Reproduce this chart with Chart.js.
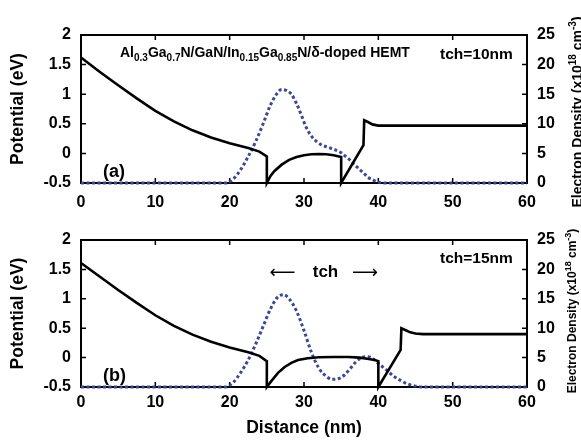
<!DOCTYPE html>
<html><head><meta charset="utf-8">
<script src="https://cdn.jsdelivr.net/npm/chart.js@4.4.1/dist/chart.umd.min.js"></script>
<style>
html,body{margin:0;padding:0;background:#fff;}
#wrap{position:relative;width:581px;height:443px;overflow:hidden;background:#fff;}
canvas{position:absolute;left:0;}
</style></head><body>
<div id="wrap">
<canvas id="ca" width="581" height="215" style="top:0px"></canvas>
<canvas id="cb" width="581" height="228" style="top:215px"></canvas>
</div>
<script>
// ---------- tick labels ----------
const xTickValues = [0, 10, 20, 30, 40, 50, 60];
const xTickLabels = ['0', '10', '20', '30', '40', '50', '60'];
const leftTickValues = [-0.5, 0, 0.5, 1, 1.5, 2];
const leftTickLabels = ['-0.5', '0', '0.5', '1', '1.5', '2'];
const rightTickValues = [0, 5, 10, 15, 20, 25];
const rightTickLabels = ['0', '5', '10', '15', '20', '25'];

// ---------- panel (a): tch = 10 nm ----------
const distPotA = [0, 2.5, 5, 7.5, 10, 12.5, 15, 17.5, 20, 22.5, 24, 25, 25, 25.5, 26, 27, 28, 29, 30, 31, 32, 33, 34, 35, 35, 38, 38.1, 38.6, 39.2, 40, 45, 50, 55, 60];
const potA     = [1.62, 1.38, 1.15, 0.93, 0.72, 0.54, 0.39, 0.27, 0.17, 0.09, 0.03, -0.05, -0.5, -0.38, -0.30, -0.19, -0.11, -0.06, -0.03, -0.015, -0.01, -0.015, -0.03, -0.06, -0.5, 0.14, 0.56, 0.53, 0.49, 0.47, 0.47, 0.47, 0.47, 0.47];
const distDenA = [0, 5, 10, 15, 19.5, 20.5, 21.5, 22.5, 23.5, 24.5, 25.5, 26.3, 27, 27.7, 28.3, 29, 29.7, 30.3, 31, 31.7, 32.4, 33.3, 34.2, 35, 35.5, 36, 36.6, 37.3, 38, 38.7, 39.3, 40, 41, 45, 50, 55, 60];
const denA     = [0, 0, 0, 0, 0, 0.7, 2.3, 4.5, 7.0, 10.0, 13.2, 15.0, 15.8, 15.6, 15.0, 13.4, 11.3, 9.4, 7.9, 7.0, 6.4, 6.0, 5.6, 5.1, 4.6, 4.1, 3.3, 2.5, 1.7, 0.9, 0.5, 0.15, 0, 0, 0, 0, 0];

// ---------- panel (b): tch = 15 nm ----------
const distPotB = [0, 2.5, 5, 7.5, 10, 12.5, 15, 17.5, 20, 22.5, 24, 25, 25, 25.6, 26.5, 27.4, 28.3, 29.2, 30.5, 32, 34, 36, 37.5, 38.5, 39.5, 40, 40, 43, 43.1, 43.6, 44.3, 45, 46, 50, 55, 60];
const potB     = [1.61, 1.38, 1.15, 0.93, 0.72, 0.54, 0.39, 0.27, 0.17, 0.09, 0.03, -0.06, -0.5, -0.40, -0.26, -0.16, -0.09, -0.04, -0.01, 0.005, 0.01, 0.01, 0.0, -0.02, -0.04, -0.06, -0.5, 0.13, 0.50, 0.47, 0.43, 0.41, 0.40, 0.40, 0.40, 0.40];
const distDenB = [0, 5, 10, 15, 19.5, 20.5, 21.5, 22.5, 23.5, 24.5, 25.5, 26.4, 27.2, 28, 29, 30, 31, 32, 33, 33.8, 34.6, 35.4, 36.2, 37, 37.7, 38.5, 39.2, 40, 41, 42, 43, 44, 45, 46, 50, 55, 60];
const denB     = [0, 0, 0, 0, 0, 0.8, 2.5, 4.6, 7.3, 10.3, 13.3, 15.2, 15.7, 15.0, 12.9, 9.6, 5.9, 3.2, 1.8, 1.3, 1.4, 2.0, 3.1, 4.3, 4.95, 5.15, 4.9, 4.0, 3.0, 1.9, 1.1, 0.5, 0.15, 0, 0, 0, 0];

// ---------- helpers ----------
const FAM = '"Liberation Sans", Arial, Helvetica, sans-serif';
const B = n => `bold ${n}px ${FAM}`;
const pts = (xs, ys) => xs.map((x, i) => ({ x: x, y: ys[i] }));

function rich(ctx, segs, x, y, align) {
  let total = 0;
  segs.forEach(s => { ctx.font = s.f; s.w = ctx.measureText(s.t).width; total += s.w; });
  let cx = align === 'center' ? x - total / 2 : x;
  ctx.textAlign = 'left';
  segs.forEach(s => { ctx.font = s.f; ctx.fillText(s.t, cx, y + (s.dy || 0)); cx += s.w; });
}

function arrowText(ctx, ch, cx, baseY, width) {
  ctx.save();
  ctx.font = '18px "DejaVu Sans", sans-serif';
  const w = ctx.measureText(ch).width;
  ctx.translate(cx, baseY);
  ctx.scale(width / w, 1);
  ctx.textAlign = 'center';
  ctx.textBaseline = 'alphabetic';
  ctx.fillText(ch, 0, 0);
  ctx.restore();
}

function makeChart(canvas, p) {
  const framePlugin = {
    id: 'frame' + canvas.id,
    beforeDatasetsDraw(chart) {
      const { ctx, chartArea: a, scales } = chart;
      ctx.save();
      ctx.strokeStyle = '#000';
      ctx.lineWidth = 2;
      ctx.strokeRect(a.left, a.top, a.right - a.left, a.bottom - a.top);
      ctx.lineWidth = 1.5;
      const tl = 5;
      ctx.beginPath();
      xTickValues.forEach(v => {
        if (v === xTickValues[0] || v === xTickValues[xTickValues.length - 1]) return;
        const px = scales.x.getPixelForValue(v);
        ctx.moveTo(px, a.bottom); ctx.lineTo(px, a.bottom - tl);
        ctx.moveTo(px, a.top); ctx.lineTo(px, a.top + tl);
      });
      leftTickValues.forEach(v => {
        const py = scales.y.getPixelForValue(v);
        ctx.moveTo(a.left, py); ctx.lineTo(a.left + tl, py);
      });
      rightTickValues.forEach(v => {
        const py = scales.y2.getPixelForValue(v);
        ctx.moveTo(a.right, py); ctx.lineTo(a.right - tl, py);
      });
      ctx.stroke();
      ctx.restore();
    },
    afterDraw(chart) {
      const { ctx, chartArea: a } = chart;
      ctx.save();
      ctx.fillStyle = '#000';
      ctx.textBaseline = 'alphabetic';
      // left axis title
      ctx.save();
      ctx.translate(23, (a.top + a.bottom) / 2);
      ctx.rotate(-Math.PI / 2);
      ctx.font = B(17.5);
      ctx.textAlign = 'center';
      ctx.fillText('Potential (eV)', 0, 0);
      ctx.restore();
      // right axis title
      ctx.save();
      ctx.translate(p.rtX, p.rtY);
      ctx.rotate(-Math.PI / 2);
      rich(ctx, [
        { t: 'Electron Density (x10', f: B(p.rtMain) },
        { t: '18', f: B(p.rtSup), dy: -p.rtMain * 0.45 },
        { t: ' cm', f: B(p.rtMain) },
        { t: '-3', f: B(p.rtSup), dy: -p.rtMain * 0.45 },
        { t: ')', f: B(p.rtMain) }
      ], 0, 0, 'center');
      ctx.restore();
      p.annotate(ctx, chart);
      ctx.restore();
    }
  };

  return new Chart(canvas, {
    type: 'line',
    data: {
      datasets: [
        { data: pts(p.dp, p.vp), yAxisID: 'y', borderColor: '#000', borderWidth: 2.6,
          pointRadius: 0, tension: 0, fill: false, clip: 6 },
        { data: pts(p.dd, p.vd), yAxisID: 'y2', borderColor: 'rgb(58,72,155)', borderWidth: 3,
          borderDash: [3, 2.5], pointRadius: 0, cubicInterpolationMode: 'monotone', fill: false, clip: 6 }
      ]
    },
    options: {
      responsive: false, animation: false, devicePixelRatio: 1,
      layout: { padding: { top: p.top, left: 0, right: 0, bottom: 0 } },
      plugins: { legend: { display: false }, tooltip: { enabled: false } },
      scales: {
        x: {
          type: 'linear', min: 0, max: 60,
          grid: { display: false, drawTicks: false }, border: { display: false },
          afterBuildTicks: s => { s.ticks = xTickValues.map(v => ({ value: v })); },
          afterFit: s => { s.height = p.xH; },
          ticks: { font: { family: FAM, weight: 'bold', size: 16 }, color: '#000', padding: p.xPad, maxRotation: 0,
                   callback: (v) => xTickLabels[xTickValues.indexOf(v)] }
        },
        y: {
          type: 'linear', position: 'left', min: -0.5, max: 2,
          grid: { display: false, drawTicks: false }, border: { display: false },
          afterBuildTicks: s => { s.ticks = leftTickValues.map(v => ({ value: v })); },
          afterFit: s => { s.width = 81; },
          ticks: { font: { family: FAM, weight: 'bold', size: 16 }, color: '#000', padding: 10,
                   callback: (v) => leftTickLabels[leftTickValues.indexOf(v)] }
        },
        y2: {
          type: 'linear', position: 'right', min: 0, max: 25,
          grid: { display: false, drawTicks: false }, border: { display: false },
          afterBuildTicks: s => { s.ticks = rightTickValues.map(v => ({ value: v })); },
          afterFit: s => { s.width = 54; },
          ticks: { font: { family: FAM, weight: 'bold', size: 16 }, color: '#000', padding: 10,
                   callback: (v) => rightTickLabels[rightTickValues.indexOf(v)] }
        }
      }
    },
    plugins: [framePlugin]
  });
}

makeChart(document.getElementById('ca'), {
  dp: distPotA, vp: potA, dd: distDenA, vd: denA,
  top: 35, xH: 32, xPad: 10,
  rtX: 582, rtY: 112, rtMain: 14, rtSup: 10,
  annotate(ctx) {
    ctx.textBaseline = 'alphabetic';
    rich(ctx, [
      { t: 'Al', f: B(14) }, { t: '0.3', f: B(10), dy: 4 },
      { t: 'Ga', f: B(14) }, { t: '0.7', f: B(10), dy: 4 },
      { t: 'N/GaN/In', f: B(14) }, { t: '0.15', f: B(10), dy: 4 },
      { t: 'Ga', f: B(14) }, { t: '0.85', f: B(10), dy: 4 },
      { t: 'N/\u03B4-doped HEMT', f: B(14) }
    ], 120, 57, 'left');
    ctx.font = B(15.5); ctx.textAlign = 'left';
    ctx.fillText('tch=10nm', 440, 58.5);
    ctx.font = B(18);
    ctx.fillText('(a)', 103, 176.5);
  }
});

makeChart(document.getElementById('cb'), {
  dp: distPotB, vp: potB, dd: distDenB, vd: denB,
  top: 25, xH: 56, xPad: 6,
  rtX: 576, rtY: 96, rtMain: 12, rtSup: 9,
  annotate(ctx, chart) {
    const a = chart.chartArea;
    ctx.textBaseline = 'alphabetic';
    ctx.textAlign = 'left';
    ctx.font = B(15.5);
    ctx.fillText('tch=15nm', 440, 48);
    ctx.font = B(18);
    ctx.fillText('(b)', 103, 166);
    ctx.font = B(17);
    ctx.textAlign = 'center';
    ctx.fillText('tch', 325.5, 61.5);
    arrowText(ctx, '\u27F5', 282.5, 62.5, 26);
    arrowText(ctx, '\u27F6', 365, 62.5, 26);
    ctx.font = B(17.5);
    ctx.textAlign = 'center';
    ctx.fillText('Distance (nm)', (a.left + a.right) / 2, 217.5);
  }
});
</script>
</body></html>
